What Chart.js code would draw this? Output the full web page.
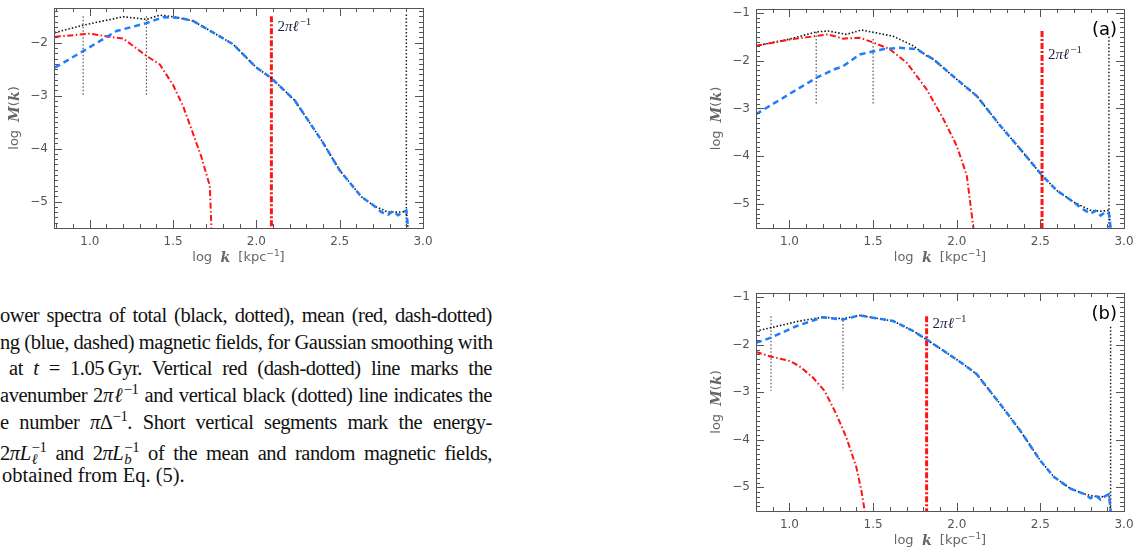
<!DOCTYPE html>
<html>
<head>
<meta charset="utf-8">
<script src="https://cdn.jsdelivr.net/npm/chart.js@4.4.1/dist/chart.umd.min.js"></script>
<style>
  html, body { margin:0; padding:0; background:#fff; }
  body { position:relative; width:1143px; height:553px; overflow:hidden; }
  .plot { position:absolute; }
  .cap { position:absolute; height:22px; line-height:22px; font-family:"Liberation Serif","DejaVu Serif",serif; font-size:20.5px; color:#111; white-space:nowrap; }
  .j { text-align:justify; text-align-last:justify; letter-spacing:-0.45px; }
  .cap sup { font-size:0.72em; line-height:0; vertical-align:0.55em; }
  .ss { display:inline-block; font-size:0.72em; line-height:0.85; vertical-align:-0.05em; text-align:left; position:relative; top:0.25em; margin-left:1px; }
</style>
</head>
<body>
<canvas id="chartL" class="plot" style="left:0;top:0;width:443px;height:280px" width="443" height="280"></canvas>
<canvas id="chartA" class="plot" style="left:700px;top:0;width:443px;height:280px" width="443" height="280"></canvas>
<canvas id="chartB" class="plot" style="left:700px;top:280px;width:443px;height:273px" width="443" height="273"></canvas>

<div class="cap j" style="left:0;top:304px;width:492px">ower spectra of total (black, dotted), mean (red, dash-dotted)</div>
<div class="cap j" style="left:0;top:331px;width:492px">ng (blue, dashed) magnetic fields, for Gaussian smoothing with</div>
<div class="cap j" style="left:9px;top:357px;width:483px">at <i>t</i> = 1.05&thinsp;Gyr. Vertical red (dash-dotted) line marks the</div>
<div class="cap j" style="left:0;top:384px;width:492px">avenumber 2<i>πℓ</i><sup>−1</sup> and vertical black (dotted) line indicates the</div>
<div class="cap j" style="left:0;top:411px;width:492px">e number <i>π</i>Δ<sup>−1</sup>. Short vertical segments mark the energy-</div>
<div class="cap j" style="left:0;top:437px;width:492px">2<i>πL</i><span class="ss">−1<br><i>ℓ</i></span> and 2<i>πL</i><span class="ss">−1<br><i>b</i></span> of the mean and random magnetic fields,</div>
<div class="cap" style="left:2px;top:464px">obtained from Eq. (5).</div>

<script>
// axis ticks shared by all panels (log k and log M(k))
const xTicks = [1.0, 1.5, 2.0, 2.5, 3.0];
const yTicks = [-5, -4, -3, -2, -1];
const yMin = -5.5;

// left panel (cropped figure)
const kTotL  = [0.79, 0.96, 1.2, 1.34, 1.42, 1.5, 1.62, 1.72, 1.86, 2.0, 2.09, 2.23, 2.39, 2.5, 2.63, 2.71, 2.79, 2.85, 2.9, 2.91];
const totL   = [-1.81, -1.67, -1.51, -1.56, -1.48, -1.51, -1.59, -1.77, -2.03, -2.47, -2.67, -3.09, -3.84, -4.41, -4.91, -5.09, -5.2, -5.2, -5.19, -5.5];
const kMeanL = [0.79, 1.0, 1.12, 1.2, 1.34, 1.42, 1.5, 1.56, 1.62, 1.67, 1.72, 1.73];
const meanL  = [-1.89, -1.83, -1.89, -1.92, -2.25, -2.41, -2.8, -3.2, -3.72, -4.16, -4.7, -5.5];
const kFlucL = [0.79, 0.96, 1.16, 1.34, 1.44, 1.54, 1.62, 1.72, 1.86, 2.0, 2.09, 2.23, 2.39, 2.5, 2.63, 2.71, 2.75, 2.79, 2.82, 2.85, 2.88, 2.9, 2.91];
const flucL  = [-2.47, -2.16, -1.78, -1.63, -1.52, -1.53, -1.59, -1.77, -2.03, -2.47, -2.67, -3.09, -3.84, -4.41, -4.91, -5.09, -5.2, -5.25, -5.18, -5.26, -5.2, -5.17, -5.5];
const ellL = [2.09, -1.5];          // 2πℓ⁻¹: log k, top of line
const deltaL = [2.9, -1.47];        // πΔ⁻¹
const segXL = [0.96, 1.34], segTopL = [-1.5, -1.5], segBotL = -3.0;
const labelYL = -1.69;

// panel (a)
const kTotA  = [0.8, 1.0, 1.16, 1.23, 1.34, 1.43, 1.52, 1.62, 1.74, 1.82, 1.86, 2.0, 2.12, 2.26, 2.38, 2.51, 2.6, 2.7, 2.8, 2.86, 2.91, 2.92];
const totA   = [-1.69, -1.55, -1.4, -1.38, -1.45, -1.36, -1.42, -1.49, -1.69, -1.9, -1.97, -2.39, -2.74, -3.36, -3.85, -4.4, -4.72, -4.96, -5.13, -5.15, -5.13, -5.5];
const kMeanA = [0.8, 1.0, 1.23, 1.32, 1.42, 1.5, 1.6, 1.7, 1.82, 1.92, 2.0, 2.06, 2.1];
const meanA  = [-1.69, -1.56, -1.45, -1.54, -1.52, -1.62, -1.76, -2.04, -2.6, -3.22, -3.78, -4.4, -5.5];
const kFlucA = [0.8, 1.16, 1.27, 1.32, 1.42, 1.56, 1.66, 1.76, 1.86, 2.0, 2.12, 2.26, 2.38, 2.51, 2.6, 2.7, 2.75, 2.8, 2.83, 2.86, 2.89, 2.91, 2.92];
const flucA  = [-3.12, -2.36, -2.18, -2.12, -1.87, -1.76, -1.73, -1.76, -1.97, -2.39, -2.74, -3.36, -3.85, -4.4, -4.72, -4.96, -5.1, -5.2, -5.14, -5.24, -5.16, -5.2, -5.5];
const ellA = [2.51, -1.38];
const deltaA = [2.91, -1.5];
const segXA = [1.16, 1.5], segTopA = [-1.4, -1.55], segBotA = -2.92;
const labelYA = -1.86;

// panel (b)
const kTotB  = [0.8, 0.89, 1.06, 1.2, 1.32, 1.42, 1.5, 1.62, 1.74, 1.82, 1.94, 2.04, 2.12, 2.26, 2.38, 2.5, 2.58, 2.68, 2.76, 2.82, 2.88, 2.91, 2.92];
const totB   = [-1.71, -1.64, -1.5, -1.42, -1.45, -1.38, -1.43, -1.5, -1.71, -1.89, -2.17, -2.41, -2.62, -3.25, -3.81, -4.44, -4.78, -5.03, -5.14, -5.19, -5.2, -5.14, -5.5];
const kMeanB = [0.8, 0.88, 1.0, 1.06, 1.14, 1.21, 1.28, 1.34, 1.4, 1.43, 1.45];
const meanB  = [-2.15, -2.24, -2.34, -2.45, -2.69, -2.97, -3.46, -3.95, -4.58, -5.07, -5.5];
const kFlucB = [0.8, 0.89, 1.04, 1.2, 1.32, 1.42, 1.5, 1.62, 1.74, 1.82, 1.94, 2.04, 2.12, 2.26, 2.38, 2.5, 2.58, 2.68, 2.76, 2.8, 2.83, 2.86, 2.89, 2.91, 2.92];
const flucB  = [-1.96, -1.85, -1.61, -1.42, -1.47, -1.38, -1.43, -1.5, -1.71, -1.89, -2.17, -2.41, -2.62, -3.25, -3.81, -4.44, -4.78, -5.03, -5.14, -5.23, -5.17, -5.26, -5.18, -5.15, -5.5];
const ellB = [1.82, -1.4];
const deltaB = [2.92, -1.62];
const segXB = [0.89, 1.32], segTopB = [-1.4, -1.49], segBotB = -2.97;
const labelYB = -1.55;

const RED = '#ff1414', BLUE = '#1f7cff', AXIS = '#555';
const pts = (xs, ys) => xs.map((x, i) => ({ x, y: ys[i] }));

// draws runs of text with their own fonts, left to right
function drawRuns(ctx, runs, x, y) {
  let w = 0;
  runs.forEach(r => { ctx.font = r.f; w += ctx.measureText(r.t).width; });
  let cx = x - w / 2;
  runs.forEach(r => {
    ctx.font = r.f;
    ctx.fillText(r.t, cx, y + (r.dy || 0));
    cx += ctx.measureText(r.t).width;
  });
}

const frame = {
  id: 'frame',
  afterDraw(chart, args, o) {
    const { ctx, chartArea: a, scales: { x, y } } = chart;
    ctx.save();
    ctx.strokeStyle = AXIS;
    ctx.lineWidth = 1;
    ctx.strokeRect(a.left + 0.5, a.top + 0.5, a.width, a.height);
    ctx.beginPath();
    for (let v = Math.ceil(x.min * 10); v <= 30; v++) {
      const px = Math.round(x.getPixelForValue(v / 10)) + 0.5;
      const len = v % 5 === 0 ? 8 : 4;
      ctx.moveTo(px, a.bottom); ctx.lineTo(px, a.bottom - len);
      ctx.moveTo(px, a.top); ctx.lineTo(px, a.top + len);
    }
    for (let v = -55; v <= Math.floor(y.max * 10); v++) {
      const py = Math.round(y.getPixelForValue(v / 10)) + 0.5;
      const len = v % 10 === 0 ? 8 : 4;
      ctx.moveTo(a.left, py); ctx.lineTo(a.left + len, py);
      ctx.moveTo(a.right, py); ctx.lineTo(a.right - len, py);
    }
    ctx.stroke();

    // axis titles
    ctx.fillStyle = '#666';
    ctx.textBaseline = 'middle';
    drawRuns(ctx, [
      { t: 'log  ', f: '13px "DejaVu Sans"' },
      { t: 'k', f: 'italic bold 14px "DejaVu Serif"' },
      { t: '  [kpc', f: '13px "DejaVu Sans"' },
      { t: '−1', f: '9px "DejaVu Sans"', dy: -4 },
      { t: ']', f: '13px "DejaVu Sans"' }
    ], (a.left + a.right) / 2, a.bottom + 30);
    ctx.save();
    ctx.translate(a.left - 39, (a.top + a.bottom) / 2);
    ctx.rotate(-Math.PI / 2);
    drawRuns(ctx, [
      { t: 'log  ', f: '13px "DejaVu Sans"' },
      { t: 'M', f: 'italic bold 14px "DejaVu Serif"' },
      { t: '(', f: '13px "DejaVu Sans"' },
      { t: 'k', f: 'italic bold 14px "DejaVu Serif"' },
      { t: ')', f: '13px "DejaVu Sans"' }
    ], 0, 0);
    ctx.restore();

    // 2πℓ⁻¹ label next to the red line
    ctx.fillStyle = '#1c2340';
    ctx.textBaseline = 'alphabetic';
    const lx = x.getPixelForValue(o.ell) + 6;
    const ly = y.getPixelForValue(o.labelY) + 5;
    ctx.font = '15px "Liberation Serif"';
    ctx.fillText('2', lx, ly);
    let w = ctx.measureText('2').width;
    ctx.font = 'italic 15px "Liberation Serif"';
    ctx.fillText('πℓ', lx + w, ly);
    w += ctx.measureText('πℓ').width + 1;
    ctx.font = '11px "Liberation Serif"';
    ctx.fillText('−1', lx + w, ly - 6);

    if (o.tag) {
      ctx.fillStyle = '#000';
      ctx.font = '18px "DejaVu Sans"';
      ctx.textAlign = 'right';
      ctx.textBaseline = 'middle';
      ctx.fillText(o.tag, a.right - 7, a.top + 21);
    }
    ctx.restore();
  }
};

function panel(id, p) {
  const datasets = [
    { data: pts(p.kFluc, p.fluc), borderColor: BLUE, borderWidth: 2.5, borderDash: [6, 4], order: 0 },
    { data: pts(p.kMean, p.mean), borderColor: RED, borderWidth: 2, borderDash: [6, 2.5, 1.5, 2.5], order: 1 },
    { data: pts(p.kTot, p.tot), borderColor: '#111', borderWidth: 1.6, borderDash: [1.5, 2], order: 2 },
    { data: [{ x: p.ell[0], y: p.ell[1] }, { x: p.ell[0], y: yMin }], borderColor: RED, borderWidth: 3, borderDash: [6, 2, 2, 2], order: 3 },
    { data: [{ x: p.delta[0], y: p.delta[1] }, { x: p.delta[0], y: yMin }], borderColor: '#222', borderWidth: 1.5, borderDash: [1.5, 2], order: 3 }
  ];
  p.segX.forEach((sx, i) => datasets.push({
    data: [{ x: sx, y: p.segTop[i] }, { x: sx, y: p.segBot }],
    borderColor: '#555', borderWidth: 1.2, borderDash: [1.5, 2], order: 3
  }));

  const tickFont = { family: 'DejaVu Sans', size: 12 };
  return new Chart(document.getElementById(id), {
    type: 'line',
    data: { datasets },
    options: {
      responsive: false,
      animation: false,
      events: [],
      elements: { point: { radius: 0 }, line: { tension: 0, fill: false } },
      layout: { padding: { top: p.padTop, right: p.padRight, left: 0, bottom: 0 } },
      plugins: {
        legend: { display: false },
        tooltip: { enabled: false },
        frame: { ell: p.ell[0], labelY: p.labelY, tag: p.tag }
      },
      scales: {
        x: {
          type: 'linear', min: p.xMin, max: 3.0,
          afterBuildTicks: s => { s.ticks = xTicks.map(v => ({ value: v })); },
          afterFit: s => { s.height = p.xH; s.paddingLeft = 0; s.paddingRight = 0; },
          ticks: { callback: v => v.toFixed(1), color: AXIS, font: tickFont, padding: 7, maxRotation: 0, autoSkip: false },
          grid: { display: false, drawTicks: false },
          border: { display: false }
        },
        y: {
          type: 'linear', min: yMin, max: p.yMax,
          afterBuildTicks: s => { s.ticks = yTicks.map(v => ({ value: v })); },
          afterFit: s => { s.width = p.yW; s.paddingTop = 0; s.paddingBottom = 0; },
          ticks: { callback: v => '−' + Math.abs(v), color: AXIS, font: tickFont, padding: 6, autoSkip: false },
          grid: { display: false, drawTicks: false },
          border: { display: false }
        }
      }
    },
    plugins: [frame]
  });
}

panel('chartL', {
  kTot: kTotL, tot: totL, kMean: kMeanL, mean: meanL, kFluc: kFlucL, fluc: flucL,
  ell: ellL, delta: deltaL, segX: segXL, segTop: segTopL, segBot: segBotL, labelY: labelYL,
  xMin: 0.785, yMax: -1.345, padTop: 8, padRight: 20, yW: 54, xH: 52, tag: ''
});
panel('chartA', {
  kTot: kTotA, tot: totA, kMean: kMeanA, mean: meanA, kFluc: kFlucA, fluc: flucA,
  ell: ellA, delta: deltaA, segX: segXA, segTop: segTopA, segBot: segBotA, labelY: labelYA,
  xMin: 0.8, yMax: -0.92, padTop: 9, padRight: 19, yW: 56, xH: 52, tag: '(a)'
});
panel('chartB', {
  kTot: kTotB, tot: totB, kMean: kMeanB, mean: meanB, kFluc: kFlucB, fluc: flucB,
  ell: ellB, delta: deltaB, segX: segXB, segTop: segTopB, segBot: segBotB, labelY: labelYB,
  xMin: 0.8, yMax: -0.91, padTop: 13, padRight: 19, yW: 56, xH: 42, tag: '(b)'
});
</script>
</body>
</html>
